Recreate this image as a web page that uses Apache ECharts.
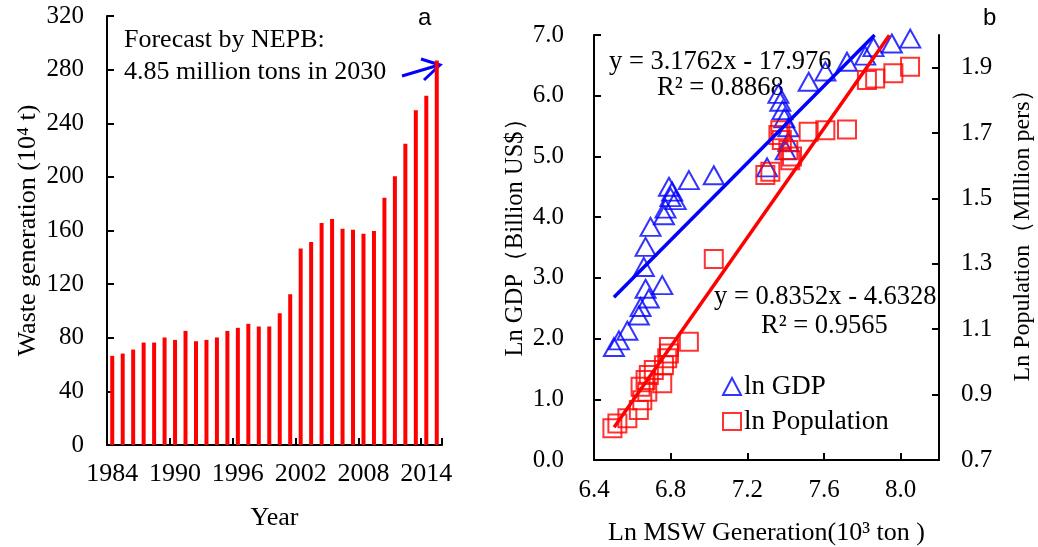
<!DOCTYPE html>
<html><head><meta charset="utf-8">
<script src="https://cdn.jsdelivr.net/npm/echarts@6/dist/echarts.min.js"></script>
<style>html,body{margin:0;padding:0;background:#fff}#c{width:1038px;height:547px}</style>
</head><body><div id="c"></div>
<script>
// ---- Panel a: waste generation by year (10^4 t)
const years = ['1984','1985','1986','1987','1988','1989','1990','1991','1992','1993','1994','1995','1996','1997','1998','1999','2000','2001','2002','2003','2004','2005','2006','2007','2008','2009','2010','2011','2012','2013','2014','2015'];
const waste = [66.5,68.2,71.2,76.4,76.4,80.2,78.4,85.1,77.4,78.4,80.2,85.1,87.4,90.4,88.4,88.4,98.3,112.5,146.6,151.4,165.6,168.5,161.3,160.6,157.6,159.6,184.5,200.4,224.8,249.7,260.6,286.8];

// ---- Panel b: ln GDP / ln Population vs ln MSW
const gdpX = [6.504,6.530,6.574,6.634,6.643,6.686,6.669,6.756,6.660,6.669,6.695,6.765,6.773,6.826,6.799,6.808,6.791,6.895,7.025,7.303,7.400,7.414,7.414,7.393,7.383,7.372,7.362,7.520,7.607,7.720,7.815,7.858,7.954,8.050];
const gdpY = [1.86,1.97,2.13,2.38,2.52,2.66,2.82,2.88,3.18,3.51,3.84,4.03,4.14,4.28,4.33,4.42,4.50,4.61,4.69,4.82,5.10,5.24,5.48,5.63,5.76,5.90,6.03,6.23,6.40,6.56,6.66,6.80,6.86,6.94];
const popX = [6.496,6.522,6.574,6.634,6.652,6.678,6.643,6.669,6.686,6.756,6.712,6.765,6.782,6.791,6.791,6.895,7.025,7.294,7.320,7.424,7.433,7.414,7.380,7.362,7.372,7.520,7.607,7.720,7.824,7.867,7.962,8.049];
const popY = [0.797,0.812,0.828,0.853,0.883,0.909,0.924,0.945,0.960,0.935,0.975,0.990,1.011,1.026,1.046,1.062,1.315,1.572,1.582,1.617,1.628,1.648,1.679,1.694,1.709,1.704,1.709,1.711,1.862,1.867,1.883,1.903];
// regression lines: [slope, intercept], x-range
const gdpFit = [3.1762, -17.976];
const gdpFitRange = [6.504, 7.864];
const popFit = [0.8352, -4.6328];
const popFitRange = [6.505, 7.941];
// tick settings
const wasteTicks = [0, 320, 40];
const mswTicks = [6.4, 8.2, 0.4];
const gdpTicks = [0, 7, 1];
const popTicks = [0.7, 2.0, 0.2];

const SERIF = '"Liberation Serif","Times New Roman",serif';
const SANS = '"Liberation Sans",Arial,sans-serif';
const BLACK = '#000';
const BLUE = '#0000ff';
const RED = '#ff0000';

function fitLine(fit, range) {
  return range.map(x => [x, fit[0] * x + fit[1]]);
}
const axLine = { show: true, lineStyle: { color: BLACK, width: 2 } };
const axTick = { show: true, inside: true, length: 7, lineStyle: { color: BLACK, width: 2 } };
const lbl = (extra) => Object.assign({ color: BLACK, fontFamily: SERIF, fontSize: 25 }, extra);
const nameStyle = { color: BLACK, fontFamily: SERIF, fontSize: 26 };

const chart = echarts.init(document.getElementById('c'), null, { renderer: 'canvas' });
chart.setOption({
  backgroundColor: '#fff',
  animation: false,
  textStyle: { fontFamily: SERIF },
  grid: [
    { left: 107, top: 16, width: 335, height: 429, containLabel: false, outerBoundsMode: 'none' },
    { left: 594, top: 35, width: 345, height: 425, containLabel: false, outerBoundsMode: 'none' }
  ],
  legend: {
    data: ['ln GDP', 'ln Population'],
    orient: 'vertical', left: 722, top: 373, padding: 0, itemWidth: 18, itemHeight: 17, itemGap: 8,
    textStyle: { color: BLACK, fontFamily: SERIF, fontSize: 27, padding: [0, 0, 0, -2] },
    selectedMode: false
  },
  xAxis: [
    {
      type: 'category', gridIndex: 0, data: years, boundaryGap: true,
      axisLine: axLine,
      axisTick: Object.assign({}, axTick, { interval: 5 }),
      axisLabel: lbl({ interval: 5, margin: 16, fontSize: 26 }),
      splitLine: { show: false },
      name: 'Year', nameLocation: 'middle', nameGap: 60, nameTextStyle: nameStyle
    },
    {
      type: 'value', gridIndex: 1, min: mswTicks[0], max: mswTicks[1], interval: mswTicks[2],
      axisLine: axLine, axisTick: axTick,
      axisLabel: lbl({ margin: 18, showMaxLabel: false, formatter: v => v.toFixed(1) }),
      splitLine: { show: false },
      name: 'Ln MSW Generation(10³ ton )', nameLocation: 'middle', nameGap: 60, nameTextStyle: nameStyle
    }
  ],
  yAxis: [
    {
      type: 'value', gridIndex: 0, min: wasteTicks[0], max: wasteTicks[1], interval: wasteTicks[2],
      axisLine: axLine, axisTick: axTick,
      axisLabel: lbl({ margin: 23 }),
      splitLine: { show: false },
      name: 'Waste generation (10⁴ t)', nameLocation: 'middle', nameGap: 66, nameTextStyle: nameStyle
    },
    {
      type: 'value', gridIndex: 1, position: 'left', min: gdpTicks[0], max: gdpTicks[1], interval: gdpTicks[2],
      axisLine: axLine, axisTick: axTick,
      axisLabel: lbl({ margin: 30, formatter: v => v.toFixed(1) }),
      splitLine: { show: false },
      name: 'Ln GDP（Billion US$）', nameLocation: 'middle', nameGap: 66,
      nameTextStyle: Object.assign({}, nameStyle, { fontSize: 24.5, padding: [0, 0, 0, 32] })
    },
    {
      type: 'value', gridIndex: 1, position: 'right', min: popTicks[0], max: popTicks[1], interval: popTicks[2],
      axisLine: axLine, axisTick: axTick,
      axisLabel: lbl({ margin: 22, showMaxLabel: false, formatter: v => v.toFixed(1) }),
      splitLine: { show: false },
      name: 'Ln Population（MIllion pers）', nameLocation: 'middle', nameGap: 72,
      nameTextStyle: Object.assign({}, nameStyle, { fontSize: 24, padding: [0, 0, 0, 36] })
    }
  ],
  series: [
    {
      type: 'bar', xAxisIndex: 0, yAxisIndex: 0, data: waste, barWidth: 4,
      itemStyle: { color: RED }
    },
    {
      name: 'ln GDP', type: 'scatter', xAxisIndex: 1, yAxisIndex: 1,
      data: gdpX.map((x, i) => [x, gdpY[i]]),
      symbol: 'triangle', symbolSize: [20, 18],
      itemStyle: { color: 'rgba(255,255,255,0)', borderColor: BLUE, borderWidth: 2 }, z: 3
    },
    {
      name: 'ln Population', type: 'scatter', xAxisIndex: 1, yAxisIndex: 2,
      data: popX.map((x, i) => [x, popY[i]]),
      symbol: 'rect', symbolSize: 18,
      itemStyle: { color: 'rgba(255,255,255,0)', borderColor: RED, borderWidth: 2 }, z: 3
    },
    {
      type: 'line', xAxisIndex: 1, yAxisIndex: 1, data: fitLine(gdpFit, gdpFitRange),
      showSymbol: false, symbol: 'none', lineStyle: { color: BLUE, width: 3.5 }, z: 4
    },
    {
      type: 'line', xAxisIndex: 1, yAxisIndex: 2, data: fitLine(popFit, popFitRange),
      showSymbol: false, symbol: 'none', lineStyle: { color: RED, width: 3.5 }, z: 4
    }
  ],
  graphic: [
    { type: 'text', x: 418, y: 18, style: { text: 'a', font: '24px ' + SANS, fill: BLACK, align: 'left', verticalAlign: 'middle' } },
    { type: 'text', x: 983, y: 18, style: { text: 'b', font: '24px ' + SANS, fill: BLACK, align: 'left', verticalAlign: 'middle' } },
    { type: 'text', x: 124, y: 40, style: { text: 'Forecast by NEPB:', font: '26px ' + SERIF, fill: BLACK, align: 'left', verticalAlign: 'middle' } },
    { type: 'text', x: 124, y: 72, style: { text: '4.85 million tons in 2030', font: '26px ' + SERIF, fill: BLACK, align: 'left', verticalAlign: 'middle' } },
    { type: 'line', shape: { x1: 402, y1: 76, x2: 439, y2: 65 }, style: { stroke: BLUE, lineWidth: 3 } },
    { type: 'polyline', shape: { points: [[421, 59], [440, 65], [424, 80]] }, style: { stroke: BLUE, lineWidth: 3, fill: null } },
    { type: 'text', x: 609, y: 62, style: { text: 'y = 3.1762x - 17.976', font: '26.5px ' + SERIF, fill: BLACK, align: 'left', verticalAlign: 'middle' } },
    { type: 'text', x: 657, y: 88, style: { text: 'R² = 0.8868', font: '26.5px ' + SERIF, fill: BLACK, align: 'left', verticalAlign: 'middle' } },
    { type: 'text', x: 714, y: 297, style: { text: 'y = 0.8352x - 4.6328', font: '26.5px ' + SERIF, fill: BLACK, align: 'left', verticalAlign: 'middle' } },
    { type: 'text', x: 761, y: 326, style: { text: 'R² = 0.9565', font: '26.5px ' + SERIF, fill: BLACK, align: 'left', verticalAlign: 'middle' } }
  ]
});
</script></body></html>
